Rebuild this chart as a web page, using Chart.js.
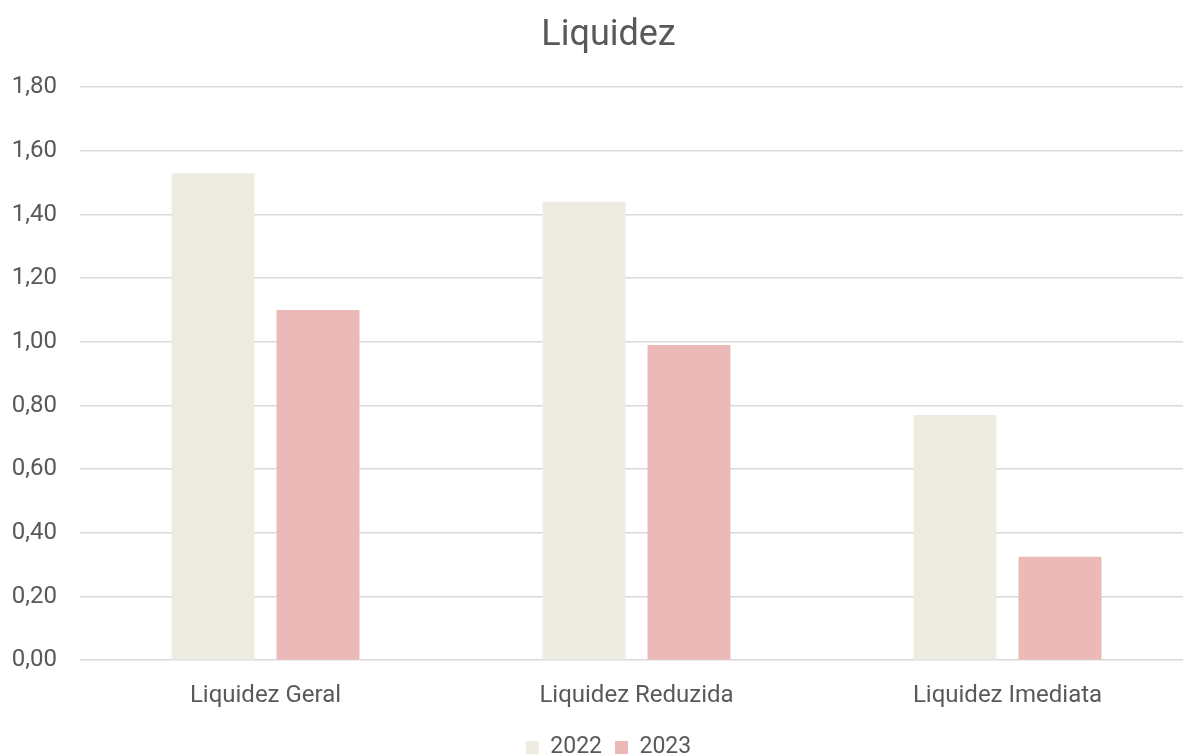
<!DOCTYPE html>
<html>
<head>
<meta charset="utf-8">
<script src="https://cdn.jsdelivr.net/npm/chart.js@4"></script>
<style>
  html, body { margin: 0; padding: 0; background: #fff; overflow: hidden; }
  #wrap { width: 1193px; height: 756px; }
</style>
</head>
<body>
<div id="wrap"><canvas id="chart"></canvas></div>
<script>
const categories = ['Liquidez Geral', 'Liquidez Reduzida', 'Liquidez Imediata'];
const values2022 = [1.53, 1.44, 0.77];
const values2023 = [1.10, 0.99, 0.325];
const yTicks = [0, 0.2, 0.4, 0.6, 0.8, 1.0, 1.2, 1.4, 1.6, 1.8];

const textColor = '#595959';
const gridColor = '#d9d9d9';

// let the y labels run past the left layout padding without being clipped
const unclipY = {
  id: 'unclipY',
  afterLayout(chart) { chart.scales.y.left = 0; }
};

new Chart(document.getElementById('chart'), {
  type: 'bar',
  data: {
    labels: categories,
    datasets: [
      { label: '2022', data: values2022, backgroundColor: '#eeebe0' },
      { label: '2023', data: values2023, backgroundColor: '#ebb9b8' }
    ]
  },
  options: {
    responsive: true,
    maintainAspectRatio: false,
    animation: false,
    layout: { padding: { left: 24, right: 0, top: 10, bottom: -13 } },
    datasets: { bar: { categoryPercentage: 0.566, barPercentage: 0.79 } },
    plugins: {
      title: {
        display: true,
        text: 'Liquidez',
        color: textColor,
        font: { family: 'Roboto', size: 36, weight: 'normal' },
        padding: { top: 4, bottom: 30 }
      },
      legend: {
        position: 'bottom',
        labels: {
          color: textColor,
          font: { family: 'Roboto', size: 23 },
          boxWidth: 13,
          boxHeight: 13,
          padding: 13
        }
      },
      tooltip: { enabled: false }
    },
    scales: {
      x: {
        grid: { display: false },
        border: { display: false },
        ticks: { color: textColor, font: { family: 'Roboto', size: 24 }, padding: 13 }
      },
      y: {
        min: 0,
        max: 1.8,
        afterBuildTicks: axis => { axis.ticks = yTicks.map(v => ({ value: v })); },
        afterFit: axis => { axis.width = 56; },
        grid: { color: gridColor, lineWidth: 1.5, drawTicks: false },
        border: { display: false },
        ticks: {
          color: textColor,
          font: { family: 'Roboto', size: 24 },
          padding: 23,
          callback: v => v.toFixed(2).replace('.', ',')
        }
      }
    }
  },
  plugins: [unclipY]
});
</script>
</body>
</html>
